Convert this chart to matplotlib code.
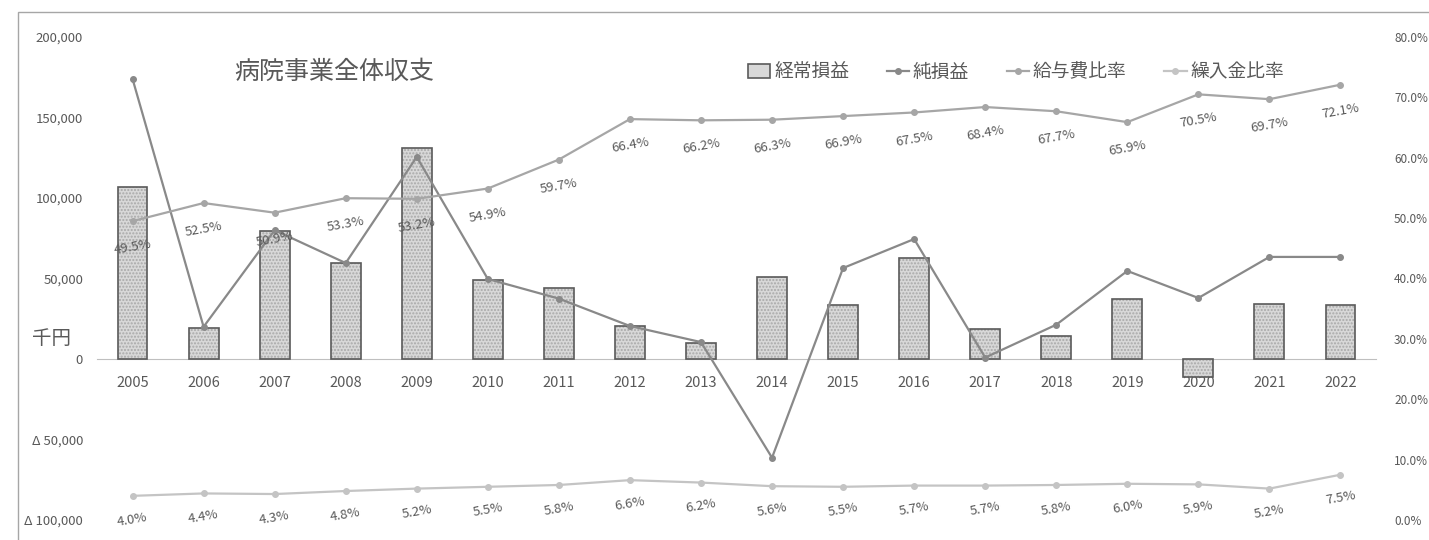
"""
病院事業全体収支 - 棒グラフ + 折れ線(2軸)
"""
import numpy as np
import matplotlib
matplotlib.use('Agg')
import matplotlib.pyplot as plt
from matplotlib import rcParams
from matplotlib.patches import Rectangle
from matplotlib.lines import Line2D

rcParams['font.family'] = ['Noto Sans CJK JP', 'DejaVu Sans']
rcParams['text.color'] = '#595959'

# データ
years = [str(y) for y in range(2005, 2023)]
ordinary_profit = [107000, 19500, 79500, 59800, 131000, 49000, 44000, 20500, 10000,
                   51000, 33500, 62700, 18600, 14300, 37300, -11000, 34200, 33500]
net_profit = [174000, 20000, 80000, 59600, 125500, 49700, 37500, 20500, 10500,
              -61300, 56500, 74500, 900, 21300, 54700, 37900, 63400, 63400]
salary_ratio = [49.5, 52.5, 50.9, 53.3, 53.2, 54.9, 59.7, 66.4, 66.2, 66.3, 66.9,
                67.5, 68.4, 67.7, 65.9, 70.5, 69.7, 72.1]
transfer_ratio = [4.0, 4.4, 4.3, 4.8, 5.2, 5.5, 5.8, 6.6, 6.2, 5.6, 5.5, 5.7, 5.7,
                  5.8, 6.0, 5.9, 5.2, 7.5]
left_ticks = [-100000, -50000, 0, 50000, 100000, 150000, 200000]
left_tick_labels = ['Δ 100,000', 'Δ 50,000', '0', '50,000', '100,000', '150,000', '200,000']
right_ticks = [0, 10, 20, 30, 40, 50, 60, 70, 80]

GRAY_TXT = '#595959'
C_NET = '#898989'
C_SAL = '#a6a6a6'
C_TRF = '#c4c4c4'

fig = plt.figure(figsize=(14.29, 5.4), dpi=100)
ax = fig.add_axes([97 / 1429, 20 / 540, 1279 / 1429, 483 / 540])
ax2 = ax.twinx()

x = np.arange(len(years))

# 経常損益 (棒)
ax.bar(x, ordinary_profit, width=0.42, color='#d8d8d8', edgecolor='#a8a8a8',
       hatch='.....', linewidth=0, zorder=2)
ax.bar(x, ordinary_profit, width=0.42, color='none', edgecolor='#5a5a5a',
       linewidth=1.2, zorder=3)

# 純損益 (折れ線)
ax.plot(x, net_profit, color=C_NET, lw=1.6, marker='o', ms=4, zorder=4)

ax.set_xlim(-0.5, len(years) - 0.5)
ax.set_ylim(-100000, 200000)
ax.set_yticks(left_ticks)
ax.set_yticklabels(left_tick_labels)
ax.set_xticks(x)
ax.set_xticklabels(years)
ax.spines['bottom'].set_position(('data', 0))
ax.spines['bottom'].set_color('#bfbfbf')
for s in ['top', 'left', 'right']:
    ax.spines[s].set_visible(False)
ax.tick_params(axis='x', length=0, pad=12, labelsize=10.5, labelcolor=GRAY_TXT)
ax.tick_params(axis='y', length=0, pad=10, labelsize=9.5, labelcolor=GRAY_TXT)

# 比率 (右軸)
ax2.plot(x, salary_ratio, color=C_SAL, lw=1.6, marker='o', ms=4, zorder=4)
ax2.plot(x, transfer_ratio, color=C_TRF, lw=1.6, marker='o', ms=4, zorder=4)
ax2.set_ylim(0, 80)
ax2.set_yticks(right_ticks)
ax2.set_yticklabels([f'{v:.1f}%' for v in right_ticks])
for s in ax2.spines.values():
    s.set_visible(False)
ax2.tick_params(axis='y', length=0, pad=13, labelsize=8.5, labelcolor=GRAY_TXT)

for xi, v in zip(x, salary_ratio):
    ax2.annotate(f'{v:.1f}%', (xi, v), xytext=(0, -19), textcoords='offset points',
                 ha='center', va='center', rotation=10, fontsize=9.5, color=GRAY_TXT)
for xi, v in zip(x, transfer_ratio):
    ax2.annotate(f'{v:.1f}%', (xi, v), xytext=(0, -17), textcoords='offset points',
                 ha='center', va='center', rotation=10, fontsize=9.5, color=GRAY_TXT)

# タイトル・単位
fig.text(334 / 1429, 1 - 72 / 540, '病院事業全体収支', fontsize=18, ha='center',
         va='center', color=GRAY_TXT)
fig.text(51 / 1429, 1 - 338 / 540, '千円', fontsize=14, ha='center', va='center',
         color=GRAY_TXT)

# 凡例
handles = [
    Rectangle((0, 0), 1, 1, facecolor='#d8d8d8', edgecolor='#5a5a5a', lw=1.2),
    Line2D([], [], color=C_NET, lw=1.6, marker='o', ms=4),
    Line2D([], [], color=C_SAL, lw=1.6, marker='o', ms=4),
    Line2D([], [], color=C_TRF, lw=1.6, marker='o', ms=4),
]
labels = ['経常損益', '純損益', '給与費比率', '繰入金比率']
fig.legend(handles, labels, loc='center', bbox_to_anchor=(1016 / 1429, 1 - 72 / 540),
           ncol=4, frameon=False, fontsize=13.5, handlelength=1.2, handletextpad=0.2,
           columnspacing=2.0, labelcolor=GRAY_TXT)

# 外枠
fig.patches.append(Rectangle((18 / 1429, -0.1), 1.2, 1.078, transform=fig.transFigure,
                             fill=False, edgecolor='#a6a6a6', lw=1))

fig.savefig('out.png', dpi=100)
